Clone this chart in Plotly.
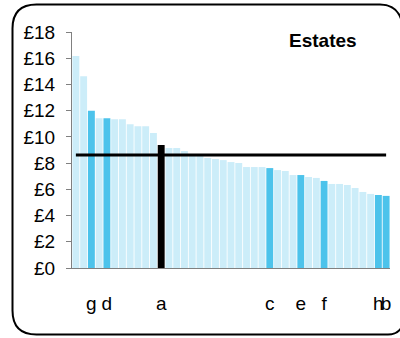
import plotly.graph_objects as go

# ---- data ----
values = [16.17, 14.62, 11.99, 11.43, 11.43, 11.35, 11.35, 10.97, 10.82, 10.82,
          10.29, 9.38, 9.15, 9.15, 8.92, 8.68, 8.62, 8.39, 8.31, 8.23,
          8.08, 8.01, 7.70, 7.70, 7.70, 7.62, 7.47, 7.40, 7.09, 7.09,
          6.94, 6.87, 6.64, 6.41, 6.41, 6.33, 6.10, 5.80, 5.65, 5.57, 5.50]
labels = ["", "", "g", "", "d", "", "", "", "", "",
          "", "a", "", "", "", "", "", "", "", "",
          "", "", "", "", "", "c", "", "", "", "e",
          "", "", "f", "", "", "", "", "", "", "h", "b"]
selected = "a"
average = 8.62
title = "Estates"
y_ticks = [0, 2, 4, 6, 8, 10, 12, 14, 16, 18]

LIGHT = "#CCEDF9"
DARK = "#4CC3EB"
SEL = "#000000"

W, H = 400, 338
ML, MR, MT, MB = 72, 10, 32, 70

x = list(range(1, len(values) + 1))
colors = [SEL if l == selected else (DARK if l else LIGHT) for l in labels]
tickvals = [i for i, l in zip(x, labels) if l]
ticktext = [l for l in labels if l]

FONT = "Liberation Sans, Arial, sans-serif"

fig = go.Figure()
fig.add_trace(go.Bar(x=x, y=values, marker=dict(color=colors, line=dict(width=0)),
                     showlegend=False, hoverinfo="y"))
fig.add_trace(go.Scatter(x=x, y=[average] * len(x), mode="lines",
                         line=dict(color="black", width=3), showlegend=False))

pw = W - ML - MR
ph = H - MT - MB
def px(p):
    return (p - ML) / pw
def py(p):
    return (H - MB - p) / ph

# rounded frame: left, top and bottom edges; right side curls off past the window edge
x0, y0, y1, r = 12.5, 4.5, 334.5, 24
xr = 402
path = (f"M {px(xr)},{py(y0+18)} Q {px(xr-4)},{py(y0)} {px(xr-22)},{py(y0)} "
        f"L {px(x0+r)},{py(y0)} Q {px(x0)},{py(y0)} {px(x0)},{py(y0+r)} "
        f"L {px(x0)},{py(y1-r)} Q {px(x0)},{py(y1)} {px(x0+r)},{py(y1)} "
        f"L {px(xr-14)},{py(y1)} Q {px(xr-4)},{py(y1)} {px(xr)},{py(y1-8)}")
fig.add_shape(type="path", path=path, xref="paper", yref="paper",
              line=dict(color="black", width=2), layer="above")

fig.add_annotation(text=f"<b>{title}</b>", x=px(323), y=py(40), xref="paper", yref="paper",
                   showarrow=False, font=dict(size=19, color="black", family=FONT),
                   xanchor="center", yanchor="middle")

fig.update_layout(
    width=W, height=H,
    margin=dict(l=ML, r=MR, t=MT, b=MB, pad=0),
    paper_bgcolor="white", plot_bgcolor="white",
    bargap=0.11,
    font=dict(family=FONT, size=19, color="black"),
    xaxis=dict(range=[0.5, len(values) + 0.5], tickmode="array", tickvals=tickvals,
               ticktext=ticktext, tickangle=0, showline=True, linecolor="#808080",
               linewidth=1, ticks="outside", ticklen=18, tickcolor="rgba(0,0,0,0)",
               showgrid=False, zeroline=False, fixedrange=True),
    yaxis=dict(range=[0, 18], tickmode="array", tickvals=y_ticks,
               ticktext=[f"£{v}" for v in y_ticks], showline=True, linecolor="#808080",
               linewidth=1, ticks="outside", ticklen=5, tickcolor="#808080",
               ticklabelstandoff=7, showgrid=False, zeroline=False, fixedrange=True),
)

fig.write_html("out.html", config={"displayModeBar": False},
               post_script="document.body.style.margin='0';document.body.style.overflow='hidden';")
